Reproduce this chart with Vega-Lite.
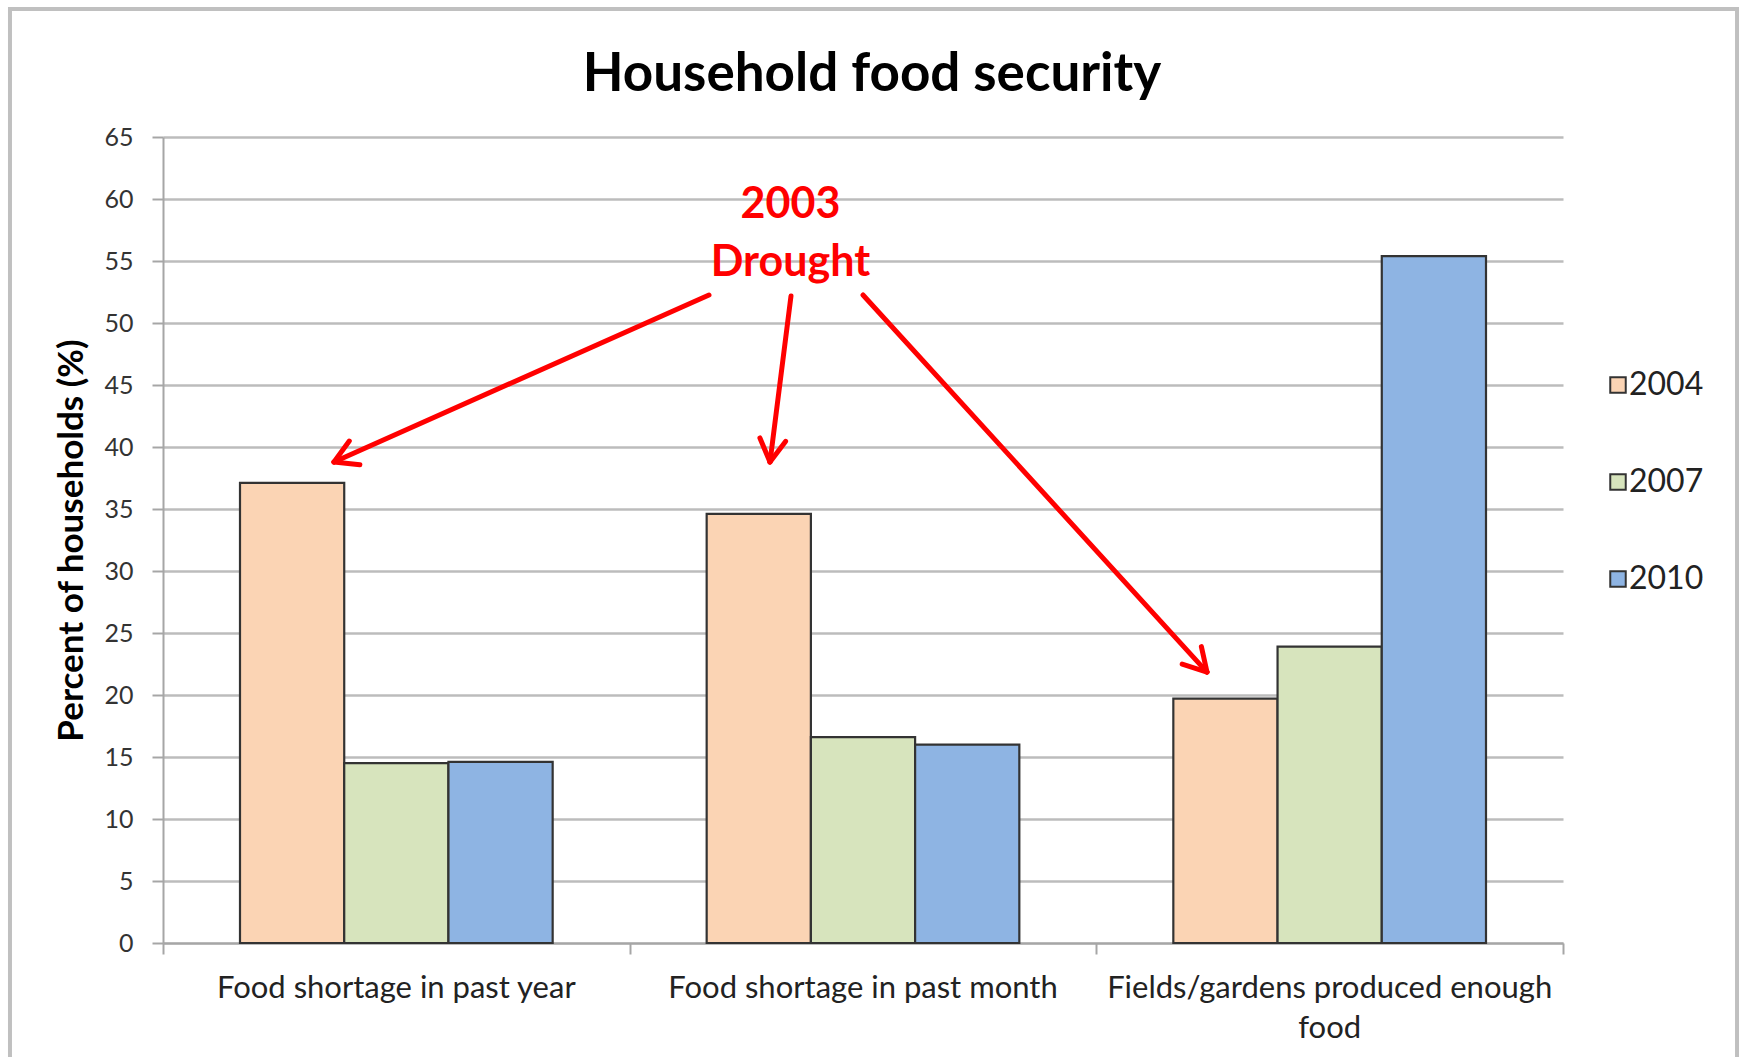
{
  "$schema": "https://vega.github.io/schema/vega-lite/v6.json",
  "width": 1400,
  "height": 806,
  "autosize": {"type": "none"},
  "padding": {"left": 163, "top": 137, "right": 178, "bottom": 114},
  "background": "white",
  "title": {"text": "Household food security", "font": "Lato", "fontSize": 53, "fontWeight": "bold", "color": "#000000", "anchor": "middle", "frame": "group", "offset": -148, "baseline": "bottom", "dx": 9},
  "datasets": {
    "bars": [
      {"category": "Food shortage in past year", "year": "2004", "value": 37.1},
      {"category": "Food shortage in past year", "year": "2007", "value": 14.5},
      {"category": "Food shortage in past year", "year": "2010", "value": 14.6},
      {"category": "Food shortage in past month", "year": "2004", "value": 34.6},
      {"category": "Food shortage in past month", "year": "2007", "value": 16.6},
      {"category": "Food shortage in past month", "year": "2010", "value": 16.0},
      {"category": "Fields/gardens produced enough food", "year": "2004", "value": 19.7},
      {"category": "Fields/gardens produced enough food", "year": "2007", "value": 23.9},
      {"category": "Fields/gardens produced enough food", "year": "2010", "value": 55.4}
    ],
    "arrows": [
      {"arrow": 1, "part": "shaft", "x": 1.1700, "y": 52.26, "x2": 0.3664, "y2": 38.79},
      {"arrow": 1, "part": "barb1", "x": 0.3664, "y": 38.79, "x2": 0.4219, "y2": 38.57},
      {"arrow": 1, "part": "barb2", "x": 0.3664, "y": 38.79, "x2": 0.3992, "y2": 40.48},
      {"arrow": 2, "part": "shaft", "x": 1.3457, "y": 52.18, "x2": 1.3007, "y2": 38.79},
      {"arrow": 2, "part": "barb1", "x": 1.3007, "y": 38.79, "x2": 1.3344, "y2": 40.46},
      {"arrow": 2, "part": "barb2", "x": 1.3007, "y": 38.79, "x2": 1.2791, "y2": 40.73},
      {"arrow": 3, "part": "shaft", "x": 1.5000, "y": 52.26, "x2": 2.2371, "y2": 21.85},
      {"arrow": 3, "part": "barb1", "x": 2.2371, "y": 21.85, "x2": 2.2251, "y2": 23.90},
      {"arrow": 3, "part": "barb2", "x": 2.2371, "y": 21.85, "x2": 2.1840, "y2": 22.49}
    ],
    "notes": [
      {"label": "2003", "x": 1.3446, "y": 59.5},
      {"label": "Drought", "x": 1.3446, "y": 54.8}
    ],
    "frame": [
      {"x": -0.3279, "x2": 3.3729, "y": 75.32, "y2": -10.24}
    ]
  },
  "layer": [
    {
      "data": {"name": "bars"},
      "mark": {"type": "bar", "stroke": "#333333", "strokeWidth": 2.2},
      "encoding": {
        "x": {
          "field": "category", "type": "nominal", "sort": null,
          "scale": {"paddingInner": 0.33, "paddingOuter": 0.165},
          "axis": {
            "title": null, "orient": "bottom", "labelAngle": 0, "domain": false, "ticks": false, "tickSize": 11,
            "labelFont": "Lato", "labelFontSize": 31, "labelColor": "#222222", "labelPadding": 30, "labelLineHeight": 40, "labelLimit": 0,
            "labelExpr": "datum.label == 'Fields/gardens produced enough food' ? ['Fields/gardens produced enough', 'food'] : datum.label"
          }
        },
        "xOffset": {"field": "year", "type": "nominal", "scale": {"paddingInner": 0, "paddingOuter": 0}},
        "y": {
          "field": "value", "type": "quantitative",
          "scale": {"domain": [0, 65], "nice": false},
          "axis": {
            "orient": "left",
            "title": "Percent of households (%)",
            "values": [0, 5, 10, 15, 20, 25, 30, 35, 40, 45, 50, 55, 60, 65],
            "grid": true, "gridColor": "#BCBCBC", "gridWidth": 2.4,
            "domainColor": "#A6A6A6", "domainWidth": 2, "tickColor": "#A6A6A6", "tickWidth": 2, "tickSize": 11,
            "labelFont": "Lato", "labelFontSize": 25, "labelColor": "#333333", "labelPadding": 19,
            "titleFont": "Lato", "titleFontSize": 35, "titleFontWeight": "bold", "titleColor": "#000000", "titlePadding": 14
          }
        },
        "color": {
          "field": "year", "type": "nominal",
          "scale": {"domain": ["2004", "2007", "2010"], "range": ["#FBD4B4", "#D7E4BD", "#8EB4E3"]},
          "legend": {
            "title": null, "orient": "none", "legendX": 1439, "legendY": 232, "direction": "vertical",
            "symbolType": "square", "symbolSize": 240, "symbolStrokeColor": "#333333", "symbolStrokeWidth": 2, "symbolOpacity": 1,
            "labelFont": "Lato", "labelFontSize": 32, "labelColor": "#222222", "labelOffset": -5, "rowPadding": 65, "padding": 0
          }
        }
      }
    },
    {
      "data": {"name": "arrows"},
      "mark": {"type": "rule", "color": "#FF0000", "strokeWidth": 5, "strokeCap": "round"},
      "encoding": {
        "x": {"field": "x", "type": "quantitative", "scale": {"domain": [0, 3], "nice": false, "zero": false}, "axis": null},
        "x2": {"field": "x2"},
        "y": {"field": "y", "type": "quantitative", "scale": {"domain": [0, 65], "nice": false}, "axis": null},
        "y2": {"field": "y2"}
      }
    },
    {
      "data": {"name": "notes"},
      "mark": {"type": "text", "color": "#FF0000", "font": "Lato", "fontSize": 43, "fontWeight": "bold", "align": "center", "baseline": "middle"},
      "encoding": {
        "x": {"field": "x", "type": "quantitative", "scale": {"domain": [0, 3], "nice": false, "zero": false}, "axis": null},
        "y": {"field": "y", "type": "quantitative", "scale": {"domain": [0, 65], "nice": false}, "axis": null},
        "text": {"field": "label"}
      }
    },
    {
      "data": {"name": "frame"},
      "mark": {"type": "rect", "filled": false, "stroke": "#C0C0C0", "strokeWidth": 4, "clip": false},
      "encoding": {
        "x": {"field": "x", "type": "quantitative", "scale": {"domain": [0, 3], "nice": false, "zero": false},
              "axis": {"orient": "bottom", "values": [0, 1, 2, 3], "labels": false, "title": null, "grid": false,
                       "domainColor": "#A6A6A6", "domainWidth": 2, "tickColor": "#A6A6A6", "tickWidth": 2, "tickSize": 11}},
        "x2": {"field": "x2"},
        "y": {"field": "y", "type": "quantitative", "scale": {"domain": [0, 65], "nice": false}, "axis": null},
        "y2": {"field": "y2"}
      }
    }
  ],
  "resolve": {"scale": {"x": "independent"}, "axis": {"y": "independent"}},
  "config": {"view": {"stroke": null}, "font": "Lato"}
}
